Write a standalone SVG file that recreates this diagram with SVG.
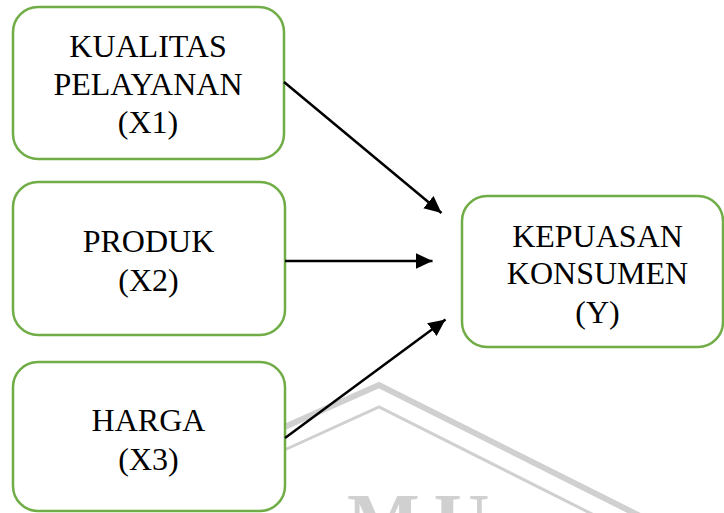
<svg xmlns="http://www.w3.org/2000/svg" width="724" height="513" viewBox="0 0 724 513">
<style>
.box{fill:#fff;stroke:#70AD47;stroke-width:2.5}
.t{font-family:"Liberation Serif","Times New Roman",serif;font-size:32px;fill:#000;text-anchor:middle}
.c{stroke:#000;stroke-width:2.5;fill:none;marker-end:url(#ah)}
.wm{fill:none;stroke:#d0d0d0;stroke-linejoin:miter}
</style>
<defs>
<marker id="ah" markerUnits="userSpaceOnUse" markerWidth="18" markerHeight="17" refX="17" refY="8" orient="auto">
<path d="M0,0 L17,8 L0,16 z" fill="#000"/>
</marker>
</defs>
<g id="watermark">
<polyline class="wm" stroke-width="6" points="280,429 379,385 640,516"/>
<polyline class="wm" stroke-width="3" points="280,452 379,407 596,516"/>
<text x="347" y="546" font-family="Liberation Serif,serif" font-weight="bold" font-size="77" fill="#d0d0d0" letter-spacing="14">MU</text>
</g>
<g id="x1">
<rect class="box" x="13" y="7" width="271" height="152" rx="25"/>
<text class="t" x="148" y="57">KUALITAS</text>
<text class="t" x="148" y="94.5">PELAYANAN</text>
<text class="t" x="148" y="132.5">(X1)</text>
</g>
<g id="x2">
<rect class="box" x="13" y="182" width="272" height="153" rx="25"/>
<text class="t" x="148.5" y="252">PRODUK</text>
<text class="t" x="148.5" y="291">(X2)</text>
</g>
<g id="x3">
<rect class="box" x="13" y="362" width="272" height="149" rx="25"/>
<text class="t" x="148.5" y="431">HARGA</text>
<text class="t" x="148.5" y="470">(X3)</text>
</g>
<g id="y">
<rect class="box" x="462" y="196" width="261" height="151" rx="25"/>
<text class="t" x="597.5" y="246.5">KEPUASAN</text>
<text class="t" x="597.5" y="284">KONSUMEN</text>
<text class="t" x="597.5" y="322.5">(Y)</text>
</g>
<g id="connectors">
<line class="c" x1="284" y1="82" x2="441.5" y2="213"/>
<line class="c" x1="285" y1="261" x2="432.5" y2="261"/>
<line class="c" x1="285" y1="438" x2="445.5" y2="319.5"/>
</g>
</svg>
